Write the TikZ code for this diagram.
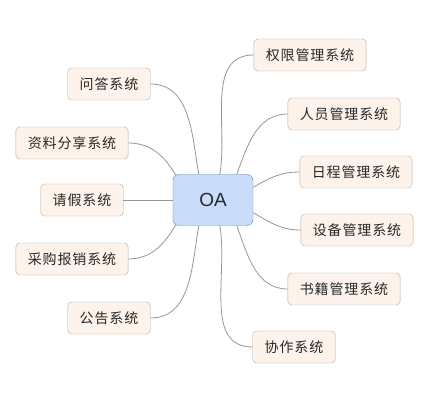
\documentclass[tikz,border=0pt]{standalone}
\usepackage{fontspec}
\setmainfont{Liberation Sans}
\newfontfamily\cjk[LetterSpace=6]{Noto Sans CJK SC}
\usepackage{tikz}

\begin{document}
\begin{tikzpicture}[x=1pt,y=1pt,
  hub/.style={draw=hubline,fill=hubfill,rounded corners=6pt,minimum width=80pt,minimum height=51pt,
    inner sep=0pt,text=textcol,font=\fontsize{19}{22}\selectfont},
  branch/.style={draw=branchline,fill=branchfill,rounded corners=4pt,minimum height=32pt,
    inner xsep=12pt,inner ysep=0pt,text=textcol,font=\cjk\fontsize{14}{16}\selectfont},
  link/.style={draw=linkcol,line width=0.8pt}]
\definecolor{hubfill}{RGB}{201,220,250}
\definecolor{hubline}{RGB}{104,130,178}
\definecolor{branchfill}{RGB}{253,243,234}
\definecolor{branchline}{RGB}{180,170,162}
\definecolor{linkcol}{RGB}{150,150,150}
\definecolor{textcol}{RGB}{40,40,40}
\useasboundingbox (0,0) rectangle (445,407);
% centre
\node[hub] (oa) at (213,207) {OA};
% left side
\node[branch] (wenda) at (109,323) {问答系统};
\node[branch] (ziliao) at (72,264) {资料分享系统};
\node[branch] (qingjia) at (82,207) {请假系统};
\node[branch] (caigou) at (72,148) {采购报销系统};
\node[branch] (gonggao) at (109,89) {公告系统};
% right side
\node[branch] (quanxian) at (310,352) {权限管理系统};
\node[branch] (renyuan) at (344,293) {人员管理系统};
\node[branch] (richeng) at (356,235) {日程管理系统};
\node[branch] (shebei) at (357,177) {设备管理系统};
\node[branch] (shuji) at (344,118) {书籍管理系统};
\node[branch] (xiezuo) at (294,60) {协作系统};
% links
\draw[link] ([xshift=26pt]oa.north west) to[out=100,in=0] (wenda.east);
\draw[link] ([xshift=3pt,yshift=-1pt]oa.north west) to[out=120,in=0] (ziliao.east);
\draw[link] (oa.west) -- (qingjia.east);
\draw[link] ([xshift=3pt,yshift=1pt]oa.south west) to[out=-120,in=0] (caigou.east);
\draw[link] ([xshift=26pt]oa.south west) to[out=-100,in=0] (gonggao.east);
\draw[link] ([xshift=47pt]oa.north west) to[out=80,in=180] (quanxian.west);
\draw[link] ([xshift=64pt]oa.north west) to[out=70,in=180] (renyuan.west);
\draw[link] ([yshift=-13pt]oa.north east) to[out=30,in=180] (richeng.west);
\draw[link] ([yshift=13pt]oa.south east) to[out=-30,in=180] (shebei.west);
\draw[link] ([xshift=64pt]oa.south west) to[out=-70,in=180] (shuji.west);
\draw[link] ([xshift=47pt]oa.south west) to[out=-80,in=180] (xiezuo.west);
\end{tikzpicture}
\end{document}
